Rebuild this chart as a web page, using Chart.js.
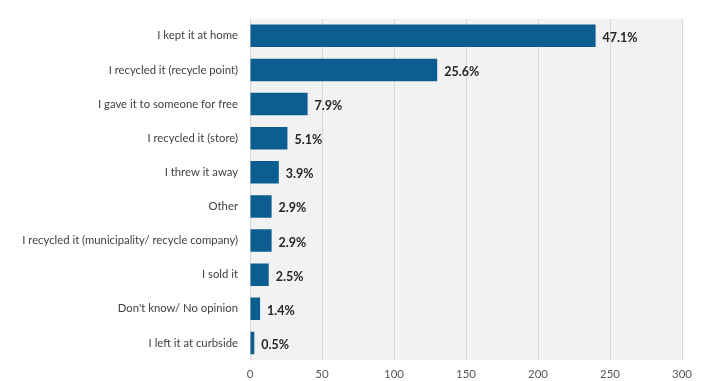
<!DOCTYPE html>
<html>
<head>
<meta charset="utf-8">
<script src="https://cdn.jsdelivr.net/npm/chart.js@4"></script>
<style>
html,body{margin:0;padding:0;background:#fff;}
#wrap{width:702px;height:381px;position:relative;}
</style>
</head>
<body>
<div id="wrap"><canvas id="c" width="702" height="381"></canvas></div>
<script>
const categories = [
  "I kept it at home",
  "I recycled it (recycle point)",
  "I gave it to someone for free",
  "I recycled it (store)",
  "I threw it away",
  "Other",
  "I recycled it (municipality/ recycle company)",
  "I sold it",
  "Don't know/ No opinion",
  "I left it at curbside"
];
const counts = [240, 130, 40, 26, 20, 15, 15, 13, 7, 3];
const percentLabels = ["47.1%", "25.6%", "7.9%", "5.1%", "3.9%", "2.9%", "2.9%", "2.5%", "1.4%", "0.5%"];
const xTicks = [0, 50, 100, 150, 200, 250, 300];

const plotBg = {
  id: 'plotBg',
  beforeDraw(chart) {
    const {ctx, chartArea: a} = chart;
    ctx.save();
    ctx.fillStyle = '#f2f2f2';
    ctx.fillRect(a.left, a.top, a.right - a.left, a.bottom - a.top);
    ctx.restore();
  }
};
const valueLabels = {
  id: 'valueLabels',
  afterDatasetsDraw(chart) {
    const {ctx} = chart;
    const meta = chart.getDatasetMeta(0);
    ctx.save();
    ctx.font = 'bold 12.5px Lato, "Open Sans", sans-serif';
    ctx.fillStyle = '#262626';
    ctx.textBaseline = 'middle';
    ctx.textAlign = 'left';
    meta.data.forEach((bar, i) => {
      ctx.fillText(percentLabels[i], bar.x + 7, bar.y + 2);
    });
    ctx.restore();
  }
};

new Chart(document.getElementById('c'), {
  type: 'bar',
  data: {
    labels: categories,
    datasets: [{
      data: counts,
      backgroundColor: '#0b5e8f',
      borderWidth: 0,
      barPercentage: 0.66,
      categoryPercentage: 1.0
    }]
  },
  options: {
    indexAxis: 'y',
    responsive: false,
    animation: false,
    layout: {autoPadding: false, padding: {top: 8, right: 20, left: 0, bottom: 0}},
    plugins: {legend: {display: false}, tooltip: {enabled: false}},
    scales: {
      x: {
        min: 0, max: 300,
        afterBuildTicks(scale) { scale.ticks = xTicks.map(v => ({value: v})); },
        grid: {color: '#d9d9d9', drawTicks: false, lineWidth: 1},
        border: {display: false},
        ticks: {color: '#595959', font: {family: 'Lato, "Open Sans", sans-serif', size: 11.5}, padding: 7},
        afterFit(scale) { scale.height = 21; }
      },
      y: {
        grid: {display: false, drawTicks: false},
        border: {display: true, color: '#d9d9d9'},
        ticks: {color: '#404040', font: {family: 'Lato, "Open Sans", sans-serif', size: 11.3}, padding: 12},
        afterFit(scale) { scale.width = 250; }
      }
    }
  },
  plugins: [plotBg, valueLabels]
});
</script>
</body>
</html>
